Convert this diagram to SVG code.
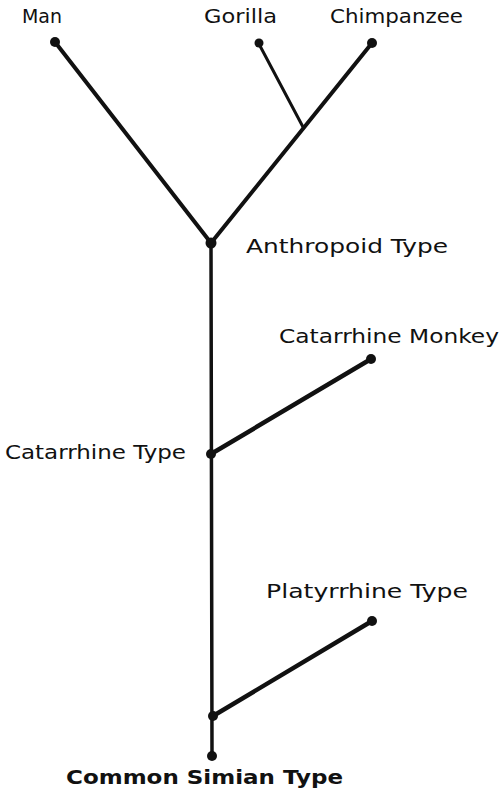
<svg xmlns="http://www.w3.org/2000/svg" width="502" height="794" viewBox="0 0 502 794">
<style>
.l{stroke:#111;stroke-linecap:round;fill:none}
.d{fill:#111}
text{font-family:"DejaVu Sans","Liberation Sans",sans-serif;font-size:19px;fill:#111}
.b{font-weight:bold}
</style>
<rect width="502" height="794" fill="#fff"/>
<g id="connectors">
<line class="l" x1="55" y1="42" x2="211" y2="243" stroke-width="4"/>
<line class="l" x1="372" y1="43" x2="211" y2="243" stroke-width="4"/>
<line class="l" x1="259" y1="44" x2="303" y2="127" stroke-width="3"/>
<line class="l" x1="211" y1="243" x2="212" y2="756" stroke-width="3.5"/>
<line class="l" x1="211" y1="454" x2="371" y2="359" stroke-width="4.5"/>
<line class="l" x1="213" y1="716" x2="372" y2="621" stroke-width="4.5"/>
</g>
<g id="man"><circle class="d" cx="55" cy="42" r="5"/><text x="22" y="23" textLength="40" lengthAdjust="spacingAndGlyphs">Man</text></g>
<g id="gorilla"><circle class="d" cx="259" cy="43" r="4.5"/><text x="204" y="23" textLength="73" lengthAdjust="spacingAndGlyphs">Gorilla</text></g>
<g id="chimpanzee"><circle class="d" cx="372" cy="43" r="5"/><text x="330" y="23" textLength="133" lengthAdjust="spacingAndGlyphs">Chimpanzee</text></g>
<g id="anthropoid"><circle class="d" cx="211" cy="243" r="5.5"/><text x="246" y="253" font-size="21" textLength="202" lengthAdjust="spacingAndGlyphs">Anthropoid Type</text></g>
<g id="catarrhine-monkey"><circle class="d" cx="371" cy="359" r="5"/><text x="279" y="343" textLength="220" lengthAdjust="spacingAndGlyphs">Catarrhine Monkey</text></g>
<g id="catarrhine-type"><circle class="d" cx="211" cy="454" r="5"/><text x="5" y="459" font-size="20" textLength="181" lengthAdjust="spacingAndGlyphs">Catarrhine Type</text></g>
<g id="platyrrhine"><circle class="d" cx="372" cy="621" r="5"/><text x="266" y="598" font-size="18" textLength="202" lengthAdjust="spacingAndGlyphs">Platyrrhine Type</text></g>
<g id="platyrrhine-join"><circle class="d" cx="213" cy="716" r="5"/></g>
<g id="common-simian"><circle class="d" cx="212" cy="756" r="5"/><text class="b" x="66" y="784" font-size="17" textLength="277" lengthAdjust="spacingAndGlyphs">Common Simian Type</text></g>
</svg>
